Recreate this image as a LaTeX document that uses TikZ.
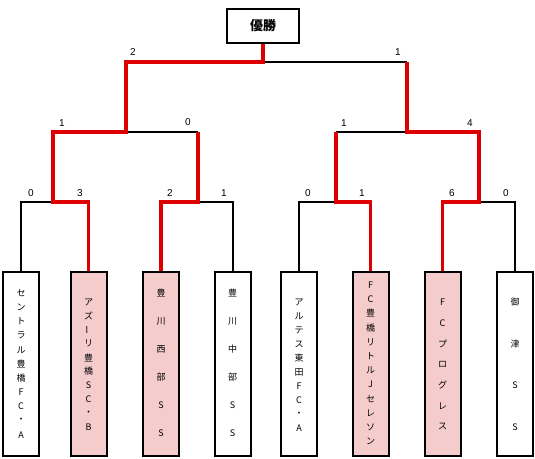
\documentclass[tikz,border=0pt]{standalone}
\usepackage{fontspec}
\setmainfont{Liberation Sans}
\newfontfamily\jp{Noto Sans CJK JP}
\definecolor{winred}{HTML}{DD0000}
\definecolor{winpink}{HTML}{F4CCCC}
\tikzset{
  team/.style={draw=black, line width=2pt, minimum width=36pt, minimum height=184pt, inner sep=0pt},
  winteam/.style={team, fill=winpink},
  lose/.style={draw=black, line width=2pt, line cap=butt, line join=miter},
  win/.style={draw=winred, line width=3.3pt, line cap=butt, line join=miter},
  score/.style={font=\fontsize{10}{10}\selectfont, inner sep=0pt},
  chr/.style={font=\jp\fontsize{9}{9}\selectfont, inner sep=0pt},
  champbox/.style={draw=black, line width=2pt, fill=white, minimum width=72pt, minimum height=34pt, inner sep=0pt, font=\jp\bfseries\fontsize{13}{13}\selectfont}
}
\newcommand{\vtext}[4]{%
  \foreach \c [count=\i from 0] in {#4} {\node[chr] at (#1, #2+\i*#3) {\c};}}
\begin{document}
\begin{tikzpicture}[x=1pt,y=-1pt]
\useasboundingbox (0,0) rectangle (535,458);
% team boxes
\node[team]    (b1) at (21,364) {};
\node[winteam] (b2) at (88.5,364) {};
\node[winteam] (b3) at (161,364) {};
\node[team]    (b4) at (232.5,364) {};
\node[team]    (b5) at (299,364) {};
\node[winteam] (b6) at (370.5,364) {};
\node[winteam] (b7) at (442.5,364) {};
\node[team]    (b8) at (515,364) {};
\node[champbox] (champ) at (263,26) {優勝};
% team names
\vtext{21}{293}{14.2}{セ,ン,ト,ラ,ル,豊,橋,F,C,・,A}
\vtext{88.5}{302}{13.9}{ア,ズ,{\rotatebox{90}{ー}},リ,豊,橋,S,C,・,B}
\vtext{161}{293}{28}{豊,川,西,部,S,S}
\vtext{232.5}{293}{28}{豊,川,中,部,S,S}
\vtext{299}{302}{14}{ア,ル,テ,ス,東,田,F,C,・,A}
\vtext{370.5}{285}{14.2}{F,C,豊,橋,リ,ト,ル,J,セ,レ,ソ,ン}
\vtext{442.5}{302}{20.8}{F,C,プ,ロ,グ,レ,ス}
\vtext{515}{302}{41.7}{御,津,S,S}
% junction coordinates
\coordinate (a1) at (21,202);
\coordinate (a2) at (88.5,202);
\coordinate (a3) at (161,202);
\coordinate (a4) at (232.5,202);
\coordinate (a5) at (299,202);
\coordinate (a6) at (370.5,202);
\coordinate (a7) at (442.5,202);
\coordinate (a8) at (515,202);
\coordinate (m1) at (53,202);
\coordinate (m2) at (198,202);
\coordinate (m3) at (336,202);
\coordinate (m4) at (479,202);
\coordinate (n1) at (53,132);
\coordinate (n2) at (198,132);
\coordinate (n3) at (336,132);
\coordinate (n4) at (479,132);
\coordinate (s1) at (126,132);
\coordinate (s2) at (407,132);
\coordinate (t1) at (126,62);
\coordinate (t2) at (407,62);
\coordinate (f)  at (263,62);
% losing lines
\draw[lose] (b1.north) -- (a1) -- (m1);
\draw[lose] (b4.north) -- (a4) -- (m2);
\draw[lose] (s1) -- (n2);
\draw[lose] (b5.north) -- (a5) -- (m3);
\draw[lose] (b8.north) -- (a8) -- (m4);
\draw[lose] (n3) -- (s2);
\draw[lose] (f) -- (t2);
% winning lines
\draw[win] (b2.north) -- (a2) -- (m1) -- (n1) -- (s1) -- (t1) -- (f) -- (champ.south);
\draw[win] (b3.north) -- (a3) -- (m2) -- (n2);
\draw[win] (b6.north) -- (a6) -- (m3) -- (n3);
\draw[win] (b7.north) -- (a7) -- (m4) -- (n4) -- (s2) -- (t2);
% scores
\node[score] (p1) at (133,52) {2};
\node[score] (p2) at (398,52) {1};
\node[score] (q1) at (62,123) {1};
\node[score] (q2) at (188,122) {0};
\node[score] (q3) at (344,123) {1};
\node[score] (q4) at (470,123) {4};
\node[score] (r1) at (31,193) {0};
\node[score] (r2) at (80,193) {3};
\node[score] (r3) at (170,193) {2};
\node[score] (r4) at (224,193) {1};
\node[score] (r5) at (308,193) {0};
\node[score] (r6) at (362,193) {1};
\node[score] (r7) at (452,193) {6};
\node[score] (r8) at (506,193) {0};
\end{tikzpicture}
\end{document}
